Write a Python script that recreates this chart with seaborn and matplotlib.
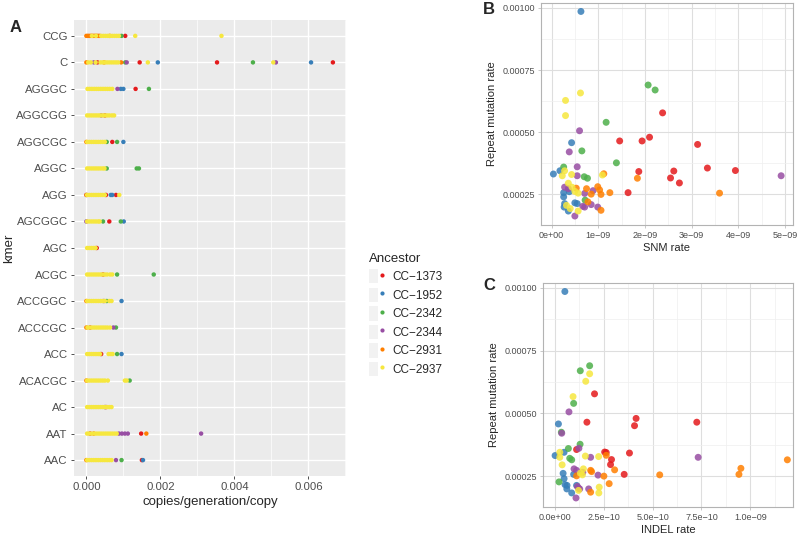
import matplotlib
matplotlib.use("Agg")
import matplotlib.pyplot as plt
import matplotlib.ticker as mticker
from matplotlib.lines import Line2D
from matplotlib.patches import Patch
from matplotlib.legend_handler import HandlerTuple
import numpy as np
import pandas as pd
import seaborn as sns

# ---- data -------------------------------------------------------------
ancestors = ["CC\u22121373", "CC\u22121952", "CC\u22122342", "CC\u22122344", "CC\u22122931", "CC\u22122937"]
palette = ["#E41A1C", "#377EB8", "#4DAF4A", "#984EA3", "#FF7F00", "#F6E73E"]

kmers = ["CCG", "C", "AGGGC", "AGGCGG", "AGGCGC", "AGGC", "AGG", "AGCGGC", "AGC",
         "ACGC", "ACCGGC", "ACCCGC", "ACC", "ACACGC", "AC", "AAT", "AAC"]

# panel A: copies/generation/copy, in units of 1e-4, per ancestor and kmer
kmer_1373 = {"CCG": [10.5], "C": [3.0, 14.4, 35.3, 66.6], "AGGGC": [13.3], "AGGCGG": [5.0],
             "AGGCGC": [7.0], "AGG": [5.3, 8.0], "AGCGGC": [6.2], "AGC": [2.8], "ACGC": [4.5],
             "ACCCGC": [1.0], "ACC": [4.0], "AC": [5.3], "AAT": [1.0, 14.8], "AAC": [15.0]}
kmer_1952 = {"C": [19.3, 60.7], "AGGGC": [9.3, 10.0], "AGGCGC": [10.0], "AGG": [6.6, 7.0],
             "AGCGGC": [10.1], "ACCGGC": [9.5], "ACC": [9.5], "AAC": [15.3]}
kmer_2342 = {"CCG": [9.5], "C": [10.5, 45.0], "AGGGC": [16.9], "AGGCGC": [5.5, 8.3],
             "AGGC": [5.5, 13.6, 14.2], "AGCGGC": [4.5, 9.3], "ACGC": [8.3, 18.2], "ACCGGC": [5.5],
             "ACCCGC": [8.0], "ACC": [8.3], "ACACGC": [11.7], "AAC": [9.5]}
kmer_2344 = {"C": [2.0, 10.9, 51.2], "AGGGC": [8.4], "AGGCGG": [4.0], "AGG": [0.0], "AGCGGC": [0.0],
             "ACCGGC": [4.7], "ACCCGC": [7.3], "AC": [5.0], "AAT": [8.8, 9.6, 10.4, 11.2, 31.0],
             "AAC": [8.0]}
kmer_2931 = {"CCG": [0.0, 0.4, 0.8, 1.2, 1.6, 2.0, 2.4, 2.8, 3.2, 3.6, 6.3], "C": [0.0, 4.8, 9.4],
             "AGGCGC": [0.0], "AGG": [0.0], "ACCGGC": [0.0], "ACCCGC": [0.0], "ACACGC": [0.0],
             "AAT": [2.0, 16.2], "AAC": [0.0]}
kmer_2937 = {"CCG": [1.5, 2.6, 4.0, 4.6, 5.2, 5.8, 6.4, 7.0, 7.6, 8.2, 8.8, 13.2, 36.5],
             "C": [0.5, 1.2, 2.5, 3.8, 4.4, 5.0, 5.6, 6.2, 6.8, 7.4, 8.0, 8.6, 16.6, 50.5],
             "AGGGC": [0.3, 0.9, 1.5, 2.1, 2.7, 3.3, 3.9, 4.5, 5.1, 5.7, 6.3, 7.0],
             "AGGCGG": [0.2, 0.8, 1.4, 2.0, 2.6, 3.2, 3.8, 4.4, 5.0, 5.6, 6.2, 6.9, 7.5],
             "AGGCGC": [0.2, 0.8, 1.4, 2.0, 2.6, 3.2, 3.8, 4.4, 5.0],
             "AGGC": [0.2, 0.8, 1.4, 2.0, 2.6, 3.2, 3.8, 4.4, 4.9],
             "AGG": [0.2, 0.8, 1.4, 2.0, 2.6, 3.2, 3.8, 4.4, 5.0, 8.9],
             "AGCGGC": [0.2, 0.8, 1.4, 2.0, 2.6, 3.2, 3.6],
             "AGC": [0.2, 0.8, 1.4, 2.0, 2.5],
             "ACGC": [0.2, 0.8, 1.4, 2.0, 2.6, 3.2, 3.8, 4.4, 5.0, 5.6, 6.4, 7.0],
             "ACCGGC": [0.2, 0.8, 1.4, 2.0, 2.6, 3.2, 3.8, 4.4, 5.0, 6.2, 6.8],
             "ACCCGC": [0.3, 0.9, 1.5, 2.1, 2.7, 3.3, 3.9, 4.5, 5.1, 5.7, 6.4],
             "ACC": [0.2, 0.8, 1.4, 2.0, 2.6, 3.2, 3.7, 6.0, 6.6, 7.1],
             "ACACGC": [0.2, 0.8, 1.4, 2.0, 2.6, 3.2, 3.8, 4.4, 5.0, 5.8, 10.4, 10.9],
             "AC": [0.2, 0.8, 1.4, 2.0, 2.6, 3.2, 3.8, 4.4, 5.0, 5.6, 6.2, 6.8],
             "AAT": [0.2, 0.8, 1.4, 2.2, 2.8, 3.4, 4.0, 4.6, 5.2, 5.8, 6.4, 7.0, 7.6, 8.2],
             "AAC": [0.2, 0.8, 1.4, 2.0, 2.6, 3.2, 3.8, 4.4, 5.0, 5.6, 6.2, 6.8]}

# panels B/C: repeat rate (1e-4), SNM rate (1e-9), INDEL rate (1e-10)
rep_1373 = [5.78, 4.80, 4.65, 4.65, 4.51, 3.56, 3.46, 3.44, 3.42, 3.16, 2.96, 2.57]
snm_1373 = [2.38, 2.10, 1.94, 1.46, 3.13, 3.34, 3.94, 2.62, 1.87, 2.55, 2.74, 1.64]
ind_1373 = [2.02, 4.15, 7.26, 1.63, 4.07, 1.10, 2.54, 2.62, 3.81, 2.89, 2.84, 3.54]

rep_1952 = [9.86, 4.58, 3.45, 3.32, 2.61, 2.57, 2.40, 2.16, 2.13, 2.13, 1.99, 1.83]
snm_1952 = [0.63, 0.43, 0.18, 0.04, 0.38, 0.26, 0.26, 0.50, 0.55, 0.28, 0.27, 0.36]
ind_1952 = [0.50, 0.17, 0.46, 0.00, 0.41, 0.95, 0.46, 0.51, 1.10, 0.61, 0.60, 0.85]

rep_2342 = [6.90, 6.70, 5.40, 4.25, 3.77, 3.60, 3.21, 3.15, 2.27]
snm_2342 = [2.07, 2.22, 1.17, 0.65, 1.39, 0.26, 0.70, 0.77, 0.72]
ind_2342 = [1.77, 1.29, 0.95, 0.32, 1.28, 0.68, 0.75, 0.85, 0.20]

rep_2344 = [5.06, 4.21, 3.61, 3.25, 3.25, 2.79, 2.73, 2.65, 2.54, 2.09, 1.99, 1.99, 2.02, 1.63]
snm_2344 = [0.60, 0.38, 0.55, 0.55, 4.92, 0.28, 0.36, 0.89, 0.71, 0.85, 0.99, 0.71, 0.67, 0.50]
ind_2344 = [0.71, 0.34, 1.22, 1.82, 7.33, 0.97, 1.10, 1.42, 2.20, 1.14, 1.26, 1.72, 1.20, 1.07]

rep_2931 = [3.33, 3.15, 2.81, 2.57, 2.55, 2.75, 2.73, 2.68, 2.50, 2.51, 2.20, 1.86]
snm_2931 = [1.12, 1.84, 0.99, 1.25, 3.60, 0.53, 0.75, 1.03, 1.06, 0.85, 0.78, 1.06]
ind_2931 = [2.62, 11.9, 9.52, 9.42, 5.36, 3.05, 1.82, 1.87, 2.50, 1.10, 2.77, 1.82]

rep_2937 = [6.58, 6.28, 5.67, 3.45, 3.25, 3.28, 3.30, 2.95, 2.79, 2.62, 2.55, 2.06, 1.93, 1.83]
snm_2937 = [0.62, 0.30, 0.30, 0.28, 0.23, 1.09, 0.43, 0.36, 0.44, 0.50, 0.57, 0.32, 0.40, 0.57]
ind_2937 = [1.77, 1.57, 0.92, 0.24, 0.24, 2.23, 1.55, 0.36, 1.45, 1.30, 1.40, 2.26, 1.20, 2.24]

rep_ticks = [0.00025, 0.0005, 0.00075, 0.001]
rep_labels = ["0.00025", "0.00050", "0.00075", "0.00100"]
snm_ticks = [0, 1e-9, 2e-9, 3e-9, 4e-9, 5e-9]
snm_labels = ["0e+00", "1e\u221209", "2e\u221209", "3e\u221209", "4e\u221209", "5e\u221209"]
ind_ticks = [0, 2.5e-10, 5e-10, 7.5e-10, 1e-9]
ind_labels = ["0.0e+00", "2.5e\u221210", "5.0e\u221210", "7.5e\u221210", "1.0e\u221209"]
rate_ticks = [0.0, 0.002, 0.004, 0.006]
rate_labels = ["0.000", "0.002", "0.004", "0.006"]

# ---- frames -----------------------------------------------------------
rows = []
for anc, d in zip(ancestors, [kmer_1373, kmer_1952, kmer_2342, kmer_2344, kmer_2931, kmer_2937]):
    for k, vals in d.items():
        for v in vals:
            rows.append((k, anc, v * 1e-4))
df_kmer = pd.DataFrame(rows, columns=["kmer", "ancestor", "rate"])

parts = []
for anc, r, s, i in zip(ancestors,
                        [rep_1373, rep_1952, rep_2342, rep_2344, rep_2931, rep_2937],
                        [snm_1373, snm_1952, snm_2342, snm_2344, snm_2931, snm_2937],
                        [ind_1373, ind_1952, ind_2342, ind_2344, ind_2931, ind_2937]):
    parts.append(pd.DataFrame({"ancestor": anc, "repeat": np.array(r) * 1e-4,
                               "snm": np.array(s) * 1e-9, "indel": np.array(i) * 1e-10}))
df_rates = pd.concat(parts, ignore_index=True)

# ---- figure -----------------------------------------------------------
sns.set_theme(style="white")
plt.rcParams['font.family'] = ['Liberation Sans', 'DejaVu Sans']

fig = plt.figure(figsize=(8, 5.34), dpi=100)
axA = fig.add_axes([0.0925, 0.1086, 0.34, 0.854])
axB = fig.add_axes([0.676, 0.5787, 0.315, 0.4157])
axC = fig.add_axes([0.679, 0.0506, 0.3125, 0.4195])

# panel A
sns.stripplot(data=df_kmer, x="rate", y="kmer", hue="ancestor", order=kmers, hue_order=ancestors,
              palette=palette, jitter=False, size=3.2, linewidth=0, ax=axA, legend=False)
axA.set_facecolor("#EBEBEB")
axA.set_xlim(-0.000334, 0.007014)
axA.set_ylim(len(kmers) - 0.4, -0.6)
axA.xaxis.set_major_locator(mticker.FixedLocator(rate_ticks))
axA.xaxis.set_major_formatter(mticker.FixedFormatter(rate_labels))
axA.xaxis.set_minor_locator(mticker.MultipleLocator(0.001))
axA.grid(which="major", axis="both", color="white", lw=1.0)
axA.grid(which="minor", axis="x", color="white", lw=0.5)
axA.set_axisbelow(True)
for sp in axA.spines.values():
    sp.set_visible(False)
axA.tick_params(which="major", length=2.5, width=0.6, color="#333333", labelcolor="#4D4D4D",
                labelsize=8.2, pad=2, left=True, bottom=True)
axA.tick_params(which="minor", length=0)
axA.set_xlabel("copies/generation/copy", fontsize=9.5, labelpad=3)
axA.set_ylabel("kmer", fontsize=9.5)
axA.yaxis.set_label_coords(-0.215, 0.5)

# panels B and C
for ax, xcol, xticks, xlabels, xminor, xlim, xtitle in [
        (axB, "snm", snm_ticks, snm_labels, 0.5e-9, (-0.23e-9, 5.17e-9), "SNM rate"),
        (axC, "indel", ind_ticks, ind_labels, 1.25e-10, (-0.61e-10, 12.2e-10), "INDEL rate")]:
    sns.scatterplot(data=df_rates, x=xcol, y="repeat", hue="ancestor", hue_order=ancestors,
                    palette=palette, s=25, alpha=0.85, linewidth=0, ax=ax, legend=False)
    ax.set_xlim(*xlim)
    ax.set_ylim(0.000127, 0.00102)
    ax.xaxis.set_major_locator(mticker.FixedLocator(xticks))
    ax.xaxis.set_major_formatter(mticker.FixedFormatter(xlabels))
    ax.xaxis.set_minor_locator(mticker.MultipleLocator(xminor))
    ax.yaxis.set_major_locator(mticker.FixedLocator(rep_ticks))
    ax.yaxis.set_major_formatter(mticker.FixedFormatter(rep_labels))
    ax.yaxis.set_minor_locator(mticker.MultipleLocator(0.000125))
    ax.grid(which="major", color="#DEDEDE", lw=0.8)
    ax.grid(which="minor", color="#EFEFEF", lw=0.5)
    ax.set_axisbelow(True)
    for sp in ax.spines.values():
        sp.set_color("#B3B3B3")
        sp.set_linewidth(0.8)
    ax.tick_params(which="major", length=2.2, width=0.5, color="#B3B3B3", labelcolor="#4D4D4D",
                   labelsize=6.5, pad=2, left=True, bottom=True)
    ax.tick_params(which="minor", length=0)
    ax.set_xlabel(xtitle, fontsize=8, labelpad=2)
    ax.set_ylabel("Repeat mutation rate", fontsize=8, labelpad=4)

# legend with grey keys
handles = [(Patch(facecolor="#F2F2F2", edgecolor="none"),
            Line2D([], [], marker="o", ls="none", color=c, markersize=3, markeredgewidth=0))
           for c in palette]
fig.legend(handles, ancestors, title="Ancestor", loc="upper left",
           bbox_to_anchor=(363 / 800, 1 - 247 / 534), frameon=False, fontsize=8.5,
           title_fontsize=9.5, handler_map={tuple: HandlerTuple(ndivide=None, pad=0)},
           handlelength=1.5, handleheight=1.5, labelspacing=0.35, handletextpad=0.5,
           borderpad=0, alignment="left")

fig.text(10 / 800, 1 - 28 / 534, "A", fontsize=12, fontweight="bold", va="center")
fig.text(483 / 800, 1 - 10 / 534, "B", fontsize=12, fontweight="bold", va="center")
fig.text(483 / 800, 1 - 285 / 534, "C", fontsize=12, fontweight="bold", va="center")

fig.savefig("out.png", dpi=100)
